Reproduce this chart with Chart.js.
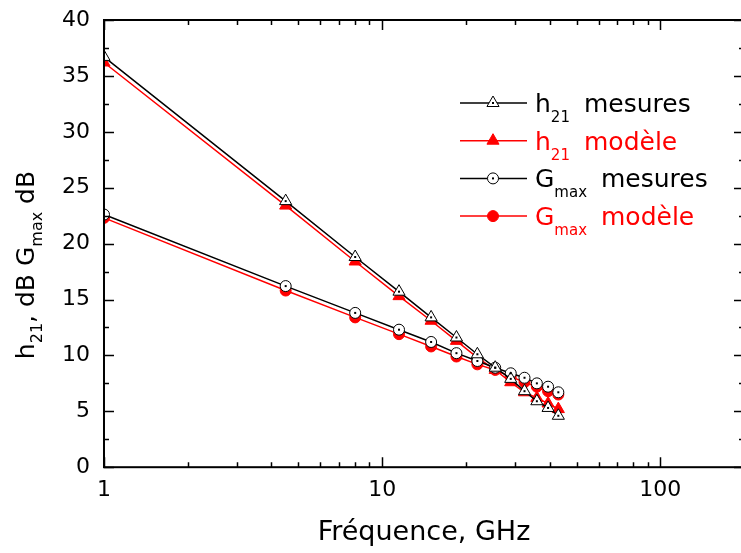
<!DOCTYPE html>
<html>
<head>
<meta charset="utf-8">
<script src="https://cdn.jsdelivr.net/npm/chart.js@4"></script>
<style>
  html, body { margin: 0; padding: 0; background: #fff; overflow: hidden; }
  canvas { display: block; }
</style>
</head>
<body>
<canvas id="gain" width="752" height="553"></canvas>
<script>
const freq = [1, 4.5, 8, 11.5, 15, 18.5, 22, 25.5, 29, 32.5, 36, 39.5, 43];
const h21Mesures = [36.7, 23.8, 18.8, 15.7, 13.4, 11.6, 10.1, 8.9, 7.9, 6.8, 5.9, 5.3, 4.6];
const h21Modele = [36.2, 23.4, 18.4, 15.3, 13.1, 11.3, 9.8, 8.7, 7.6, 6.7, 6.2, 5.7, 5.2];
const gmaxMesures = [22.6, 16.2, 13.8, 12.3, 11.2, 10.2, 9.5, 8.9, 8.4, 8.0, 7.5, 7.2, 6.7];
const gmaxModele = [22.3, 15.8, 13.4, 11.9, 10.8, 9.9, 9.2, 8.7, 8.1, 7.6, 7.2, 6.8, 6.5];
const xTicks = [1, 10, 100];

const FONT = "'DejaVu Sans', sans-serif";

function pts(ys) {
  return freq.map((f, i) => ({ x: f, y: ys[i] }));
}

// legend rows: [main, sub, rest, colour, style, filled]
const legendRows = [
  ["h", "21", "mesures", "#000", "triangle", false],
  ["h", "21", "modèle", "#ff0000", "triangle", true],
  ["G", "max", "mesures", "#000", "circle", false],
  ["G", "max", "modèle", "#ff0000", "circle", true],
];

function marker(ctx, style, x, y, color, filled) {
  ctx.save();
  ctx.lineWidth = 1;
  ctx.strokeStyle = color;
  ctx.fillStyle = filled ? color : "#fff";
  ctx.beginPath();
  if (style === "triangle") {
    const r = 7;
    ctx.moveTo(x, y - r);
    ctx.lineTo(x + r * Math.sin(2 * Math.PI / 3), y - r * Math.cos(2 * Math.PI / 3));
    ctx.lineTo(x + r * Math.sin(4 * Math.PI / 3), y - r * Math.cos(4 * Math.PI / 3));
    ctx.closePath();
  } else {
    ctx.arc(x, y, 5.5, 0, Math.PI * 2);
  }
  ctx.fill();
  ctx.stroke();
  if (!filled) {
    ctx.fillStyle = "#000";
    ctx.fillRect(x - 1, y - 1, 2, 2);
  }
  ctx.restore();
}

const framePlugin = {
  id: "frame",
  afterDatasetsDraw(chart) {
    const ctx = chart.ctx;
    // centre dots of the open markers
    chart.data.datasets.forEach((ds, i) => {
      if (!ds.dotted) return;
      chart.getDatasetMeta(i).data.forEach(p => {
        ctx.fillStyle = "#000";
        ctx.fillRect(p.x - 1, p.y - 1, 2, 2);
      });
    });
  },
  afterDraw(chart) {
    const ctx = chart.ctx;
    const a = chart.chartArea;
    const xs = chart.scales.x, ys = chart.scales.y;
    ctx.save();
    ctx.strokeStyle = "#000";
    ctx.lineWidth = 2;
    ctx.strokeRect(a.left, a.top, a.right - a.left, a.bottom - a.top);

    ctx.lineWidth = 1.5;
    ctx.beginPath();
    for (let v = 0; v <= 40; v += 2.5) {
      const y = Math.round(ys.getPixelForValue(v)) + 0.5;
      const len = v % 5 === 0 ? 10 : 5;
      ctx.moveTo(a.left, y); ctx.lineTo(a.left + len, y);
      ctx.moveTo(a.right, y); ctx.lineTo(a.right - len, y);
    }
    for (let d = 1; d <= 100; d *= 10) {
      for (let k = 1; k <= 9; k++) {
        const v = d * k;
        if (v > 200) break;
        const x = Math.round(xs.getPixelForValue(v)) + 0.5;
        const len = k === 1 ? 10 : 5;
        ctx.moveTo(x, a.bottom); ctx.lineTo(x, a.bottom - len);
        ctx.moveTo(x, a.top); ctx.lineTo(x, a.top + len);
      }
    }
    ctx.stroke();

    // y axis title with subscripts
    ctx.translate(42, 265);
    ctx.rotate(-Math.PI / 2);
    ctx.fillStyle = "#000";
    ctx.textBaseline = "alphabetic";
    const parts = [["h", 0], ["21", 1], [", dB G", 0], ["max", 1], [" dB", 0]];
    const fm = "25px " + FONT, fs = "16px " + FONT;
    let total = 0;
    parts.forEach(p => { ctx.font = p[1] ? fs : fm; total += ctx.measureText(p[0]).width; });
    let x = -total / 2;
    parts.forEach(p => {
      ctx.font = p[1] ? fs : fm;
      ctx.fillText(p[0], x, p[1] ? 0 : -8);
      x += ctx.measureText(p[0]).width;
    });
    ctx.restore();

    // legend
    ctx.save();
    legendRows.forEach((row, i) => {
      const cy = 103 + i * 37.7;
      ctx.strokeStyle = row[3];
      ctx.lineWidth = 1.5;
      ctx.beginPath();
      ctx.moveTo(460, cy); ctx.lineTo(527, cy);
      ctx.stroke();
      marker(ctx, row[4], 493, cy, row[3], row[5]);
      ctx.fillStyle = row[3];
      ctx.textBaseline = "alphabetic";
      ctx.font = "25px " + FONT;
      ctx.fillText(row[0], 535, cy + 9);
      const w = ctx.measureText(row[0]).width;
      ctx.font = "15px " + FONT;
      ctx.fillText(row[1], 535 + w, cy + 19);
      ctx.font = "25px " + FONT;
      ctx.fillText(row[2], row[4] === "triangle" ? 584 : 601, cy + 9);
    });
    ctx.restore();
  }
};

function series(label, ys, color, style, filled, order) {
  return {
    label: label,
    data: pts(ys),
    borderColor: color,
    backgroundColor: filled ? color : "#fff",
    pointBackgroundColor: filled ? color : "#fff",
    pointBorderColor: color,
    pointBorderWidth: 1,
    pointStyle: style,
    pointRadius: style === "triangle" ? 7 : 5.5,
    borderWidth: 1.5,
    tension: 0,
    dotted: !filled,
    order: order,
  };
}

new Chart(document.getElementById("gain").getContext("2d"), {
  type: "line",
  data: {
    datasets: [
      series("h21 mesures", h21Mesures, "#000", "triangle", false, 1),
      series("h21 modèle", h21Modele, "#ff0000", "triangle", true, 2),
      series("Gmax mesures", gmaxMesures, "#000", "circle", false, 1),
      series("Gmax modèle", gmaxModele, "#ff0000", "circle", true, 2),
    ],
  },
  options: {
    responsive: false,
    animation: false,
    layout: { padding: { left: 48, top: 20, right: 2, bottom: 2 } },
    plugins: { legend: { display: false }, tooltip: { enabled: false } },
    scales: {
      x: {
        type: "logarithmic",
        min: 1,
        max: 200,
        afterBuildTicks: (scale) => { scale.ticks = xTicks.map(v => ({ value: v })); },
        ticks: {
          color: "#000",
          font: { family: FONT, size: 22 },
          padding: 10,
          maxRotation: 0,
          autoSkip: false,
          callback: (v) => String(v),
        },
        grid: { display: false, drawTicks: false },
        border: { display: false },
        title: {
          display: true,
          text: "Fréquence, GHz",
          color: "#000",
          font: { family: FONT, size: 27 },
          padding: { top: 3, bottom: 2 },
        },
      },
      y: {
        min: 0,
        max: 40,
        ticks: {
          stepSize: 5,
          color: "#000",
          font: { family: FONT, size: 22, lineHeight: 0.5 },
          padding: 14,
        },
        grid: { display: false, drawTicks: false },
        border: { display: false },
      },
    },
  },
  plugins: [framePlugin],
});
</script>
</body>
</html>
